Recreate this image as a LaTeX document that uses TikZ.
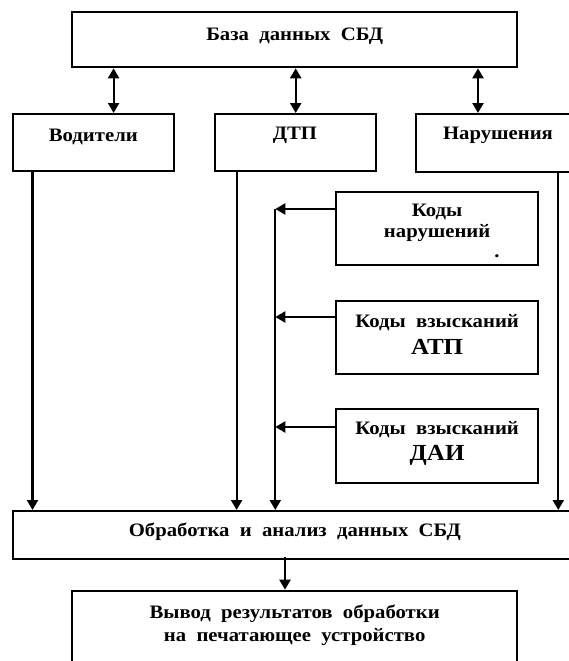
\documentclass[tikz,border=0pt]{standalone}
\usepackage{fontspec}
\setmainfont{Liberation Serif}[FakeStretch=1.09]
\usetikzlibrary{arrows.meta}
\tikzset{
  box/.style={draw, line width=2pt, rectangle, inner sep=0pt},
  lbl/.style={inner sep=0pt, font=\bfseries\fontsize{19}{22}\selectfont, align=center},
  big/.style={inner sep=0pt, font=\bfseries\fontsize{23}{26}\selectfont},
  tip/.tip={Triangle[length=10pt,width=11pt]},
  conn/.style={line width=2.2pt, -tip},
  bidir/.style={line width=2.2pt, tip-tip},
}
\begin{document}
\begin{tikzpicture}[x=1pt,y=-1pt]
\useasboundingbox (0,0) rectangle (569,661);
\clip (0,0) rectangle (569,661);
% boxes
\node[box, minimum width=444.7pt, minimum height=55.6pt] (db) at (294.65,39.5) {};
\node[box, minimum width=161.3pt, minimum height=56.7pt] (vod) at (93.35,142.35) {};
\node[box, minimum width=161pt, minimum height=56.7pt] (dtp) at (295,142.35) {};
\node[box, minimum width=164pt, minimum height=58.3pt] (nar) at (498,143.15) {};
\node[box, minimum width=202.3pt, minimum height=73.3pt] (kn) at (437.15,228.35) {};
\node[box, minimum width=202.3pt, minimum height=73.3pt] (atp) at (437.15,337.35) {};
\node[box, minimum width=202.3pt, minimum height=73.4pt] (dai) at (437.15,446) {};
\node[box, minimum width=564.3pt, minimum height=48.3pt] (obr) at (294.85,535.15) {};
\node[box, minimum width=444.7pt, minimum height=109.3pt] (out) at (294.65,645.35) {};
% texts
\node[lbl] (tdb) at (294.65,36.7) {База\ \ данных\ \ СБД};
\node[lbl] (tvod) at (93.35,136.7) {Водители};
\node[lbl] (tdtp) at (294.9,135) {ДТП};
\node[lbl] (tnar) at (498,135) {Нарушения};
\node[lbl] (tkn1) at (437.15,211.7) {Коды};
\node[lbl] (tkn2) at (437.15,233) {нарушений};
\node[lbl] (tdot) at (497,256) {.};
\node[lbl] (tatp1) at (437.15,323) {Коды\ \ взысканий};
\node[big] (tatp2) at (437.15,346.7) {АТП};
\node[lbl] (tdai1) at (437.15,430) {Коды\ \ взысканий};
\node[big] (tdai2) at (437.15,455) {ДАИ};
\node[lbl] (tobr) at (294.85,531.7) {Обработка\ \ и\ \ анализ\ \ данных\ \ СБД};
\node[lbl] (tout1) at (294.65,613.3) {Вывод\ \ результатов\ \ обработки};
\node[lbl] (tout2) at (294.65,636.7) {на\ \ печатающее\ \ устройство};
% x positions
\coordinate (x1) at (113.6,0);
\coordinate (x2) at (295.7,0);
\coordinate (x3) at (478,0);
\coordinate (v1) at (32.5,0);
\coordinate (v2) at (236.6,0);
\coordinate (v3) at (558.3,0);
\coordinate (bx) at (275.3,0);
\coordinate (ox) at (285,0);
% bidirectional
\draw[bidir] (db.south -| x1) -- (vod.north -| x1);
\draw[bidir] (db.south -| x2) -- (dtp.north -| x2);
\draw[bidir] (db.south -| x3) -- (nar.north -| x3);
% verticals down
\draw[conn] (vod.south -| v1) -- (obr.north -| v1);
\draw[conn] (dtp.south -| v2) -- (obr.north -| v2);
\draw[conn] (nar.south -| v3) -- (obr.north -| v3);
% code boxes to bus
\path ([yshift=19.35pt]kn.west) coordinate (k1);
\path ([yshift=20.35pt]atp.west) coordinate (k2);
\path ([yshift=19pt]dai.west) coordinate (k3);
\draw[conn] (k1) -- (k1 -| bx);
\draw[conn] (k2) -- (k2 -| bx);
\draw[conn] (k3) -- (k3 -| bx);
\draw[conn] (k1 -| bx) -- (obr.north -| bx);
% output
\draw[conn] ([yshift=3.3pt]obr.south -| ox) -- (out.north -| ox);
\end{tikzpicture}
\end{document}
